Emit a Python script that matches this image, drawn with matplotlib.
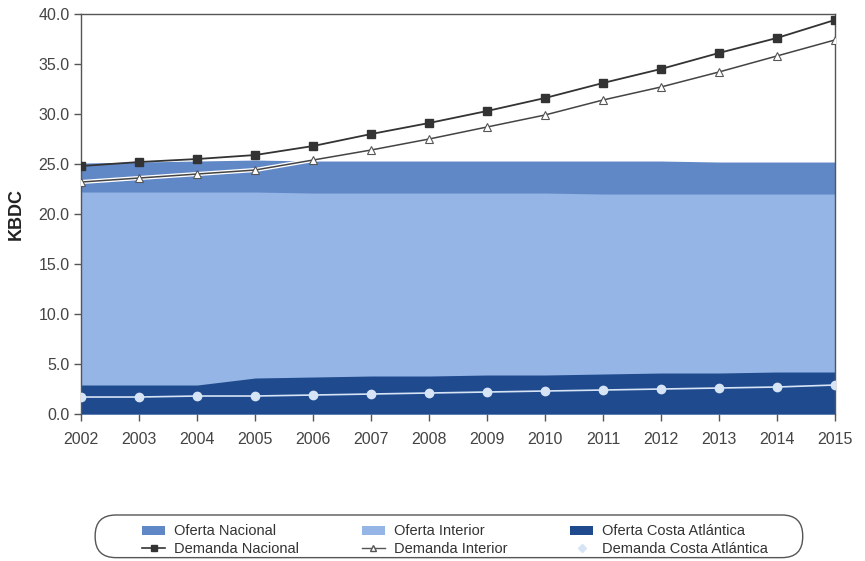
import matplotlib
matplotlib.use('Agg')
import matplotlib.pyplot as plt
from matplotlib.lines import Line2D
from matplotlib.patches import Patch, FancyBboxPatch

plt.rcParams['font.family'] = ['Liberation Sans', 'DejaVu Sans']

years = list(range(2002, 2016))

# oferta (areas, drawn from zero, overlapping)
oferta_nacional = [25.1, 25.2, 25.3, 25.4, 25.3, 25.3, 25.3, 25.3, 25.3, 25.3, 25.3, 25.2, 25.2, 25.2]
oferta_interior = [22.2, 22.2, 22.2, 22.2, 22.1, 22.1, 22.1, 22.1, 22.1, 22.0, 22.0, 22.0, 22.0, 22.0]
oferta_costa = [2.9, 2.9, 2.9, 3.6, 3.7, 3.8, 3.8, 3.9, 3.9, 4.0, 4.1, 4.1, 4.2, 4.2]

# demanda (lines)
demanda_nacional = [24.8, 25.2, 25.5, 25.9, 26.8, 28.0, 29.1, 30.3, 31.6, 33.1, 34.5, 36.1, 37.6, 39.4]
demanda_interior = [23.2, 23.6, 24.0, 24.4, 25.4, 26.4, 27.5, 28.7, 29.9, 31.4, 32.7, 34.2, 35.8, 37.4]
demanda_costa = [1.7, 1.7, 1.8, 1.8, 1.9, 2.0, 2.1, 2.2, 2.3, 2.4, 2.5, 2.6, 2.7, 2.9]

c_nac = '#6087c6'
c_int = '#94b5e5'
c_costa = '#1f4a8e'
c_line = '#333333'
c_costa_dem = '#d6e4f5'
txt = '#444444'

fig = plt.figure(figsize=(8.65, 5.61), dpi=100)
ax = fig.add_axes([0.094, 0.262, 0.871, 0.713])

ax.fill_between(years, 0, oferta_nacional, color=c_nac, lw=0, zorder=1)
ax.fill_between(years, 0, oferta_interior, color=c_int, lw=0, zorder=1.1)
ax.fill_between(years, 0, oferta_costa, color=c_costa, lw=0, zorder=1.2)

ax.plot(years, demanda_nacional, color=c_line, lw=1.3, marker='s', ms=6,
        mfc=c_line, mec=c_line, zorder=5)
# white halo under the interior demand line
ax.plot(years, demanda_interior, color='white', lw=3, zorder=2.2)
ax.plot(years, demanda_interior, color='#444444', lw=1.1, marker='^', ms=6,
        mfc='white', mec='#555555', mew=0.8, zorder=5)
ax.plot(years, demanda_costa, color=c_costa_dem, lw=1.2, marker='o', ms=6,
        mfc=c_costa_dem, mec=c_costa_dem, zorder=5)

ax.set_xlim(2002, 2015)
ax.set_ylim(0, 40)
ax.set_xticks(years)
ax.set_xticklabels([str(y) for y in years], fontsize=11.5, color=txt)
ax.set_yticks(range(0, 45, 5))
ax.set_yticklabels([f'{v:.1f}' for v in range(0, 45, 5)], fontsize=11.5, color=txt)
ax.tick_params(axis='both', direction='out', length=5, color='#555555', width=1)
ax.tick_params(axis='x', pad=8)
ax.set_ylabel('KBDC', fontsize=13, fontweight='bold', color='#222222', labelpad=10)

for s in ax.spines.values():
    s.set_color('#555555')
    s.set_linewidth(1)
ax.spines['bottom'].set_visible(False)

handles = [
    Patch(facecolor=c_nac, edgecolor='none'),
    Line2D([], [], color=c_line, marker='s', ms=5, lw=1.2),
    Patch(facecolor=c_int, edgecolor='none'),
    Line2D([], [], color='#555555', marker='^', ms=5, mfc='white', lw=1.0),
    Patch(facecolor=c_costa, edgecolor='none'),
    Line2D([], [], color=c_costa_dem, marker='D', ms=4, lw=0),
]
labels = ['Oferta Nacional', 'Demanda Nacional', 'Oferta Interior',
          'Demanda Interior', 'Oferta Costa Atlántica', 'Demanda Costa Atlántica']
leg = fig.legend(handles, labels, ncol=3, loc='center', bbox_to_anchor=(0.526, 0.037),
                 fontsize=10.5, frameon=False, handlelength=1.6,
                 handleheight=0.6, labelspacing=0.25, columnspacing=4.3,
                 handletextpad=0.6, borderaxespad=0, borderpad=0)
for t in leg.get_texts():
    t.set_color('#333333')

# rounded legend box
box = FancyBboxPatch((0.110, 0.006), 0.818, 0.076, transform=fig.transFigure,
                     boxstyle='round,pad=0,rounding_size=0.024',
                     mutation_aspect=865 / 561, facecolor='none',
                     edgecolor='#555555', lw=1)
fig.patches.append(box)

fig.savefig('out.png', dpi=100)
